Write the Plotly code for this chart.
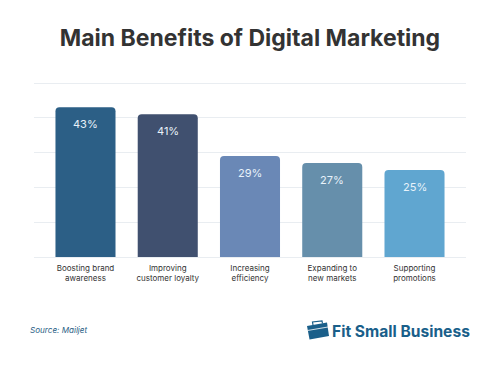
import plotly.graph_objects as go

categories = ["Boosting brand<br>awareness", "Improving<br>customer loyalty", "Increasing<br>efficiency", "Expanding to<br>new markets", "Supporting<br>promotions"]
values = [43, 41, 29, 27, 25]
labels = ["43%", "41%", "29%", "27%", "25%"]
colors = ["#2c5f86", "#40506f", "#6a88b6", "#668fab", "#60a6d0"]

W, H = 500, 368
L, R, T, B = 34, 34, 80, 111

fig = go.Figure(go.Bar(
    x=categories, y=values, width=0.73,
    marker=dict(color=colors, line=dict(width=0)),
    hoverinfo="skip",
))

def px(x): return (x - L) / (W - L - R)
def py(y): return 1 - (y - T) / (H - T - B)

bag = "#1a5f8a"
shapes = [
    dict(type="path", xref="paper", yref="paper", line=dict(width=0), fillcolor=bag,
         path=f"M {px(307)} {py(326)} L {px(327)} {py(322.5)} L {px(329)} {py(336)} L {px(309.5)} {py(339.5)} Z"),
    dict(type="path", xref="paper", yref="paper", line=dict(color=bag, width=1.2), fillcolor="rgba(0,0,0,0)",
         path=f"M {px(313)} {py(325)} L {px(312.5)} {py(322)} L {px(322)} {py(321)} L {px(322.5)} {py(323.5)}"),
    dict(type="line", xref="paper", yref="paper", line=dict(color="#ffffff", width=0.8),
         x0=px(307.5), y0=py(330.5), x1=px(328), y1=py(327)),
]

annotations = [
    dict(text=t, x=c, y=v, xref="x", yref="y", yshift=-17, yanchor="middle", xanchor="center",
         showarrow=False, font=dict(family="Inter", size=11, color="#e8f2fa"))
    for c, v, t in zip(categories, values, labels)
] + [
    dict(text="<i>Source: Mailjet</i>", xref="paper", yref="paper", x=px(28), y=py(330), xanchor="left",
         yanchor="middle", showarrow=False, font=dict(family="Inter", size=8.1, color="#2c5f86")),
    dict(text="<b>Fit Small Business</b>", xref="paper", yref="paper", x=px(330), y=py(331), xanchor="left",
         yanchor="middle", showarrow=False, font=dict(family="Inter", size=15.6, color=bag)),
]

fig.update_layout(
    width=W, height=H, autosize=False,
    margin=dict(l=L, r=R, t=T, b=B, pad=0),
    paper_bgcolor="#ffffff", plot_bgcolor="#ffffff",
    barcornerradius=4, showlegend=False,
    font=dict(family="Inter", color="#333333"),
    title=dict(text="<b>Main Benefits of Digital Marketing</b>", x=0.5, xanchor="center",
               y=1 - 38 / H, yanchor="middle", font=dict(family="Inter", size=23, color="#333333")),
    xaxis=dict(range=[-0.626, 4.626], showgrid=False, showline=False, zeroline=False, ticks="",
               tickfont=dict(family="Inter", size=8, color="#333333"), ticklabelstandoff=5,
               categoryorder="array", categoryarray=categories),
    yaxis=dict(range=[0, 50.862], tickvals=[10, 20, 30, 40, 50], showgrid=True, gridcolor="#e9edf1", gridwidth=1,
               zeroline=True, zerolinecolor="#e9edf1", zerolinewidth=1, showticklabels=False, ticks=""),
    shapes=shapes,
    annotations=annotations,
)

fig.write_html("out.html", config=dict(displayModeBar=False),
               post_script="document.body.style.margin='0';")
